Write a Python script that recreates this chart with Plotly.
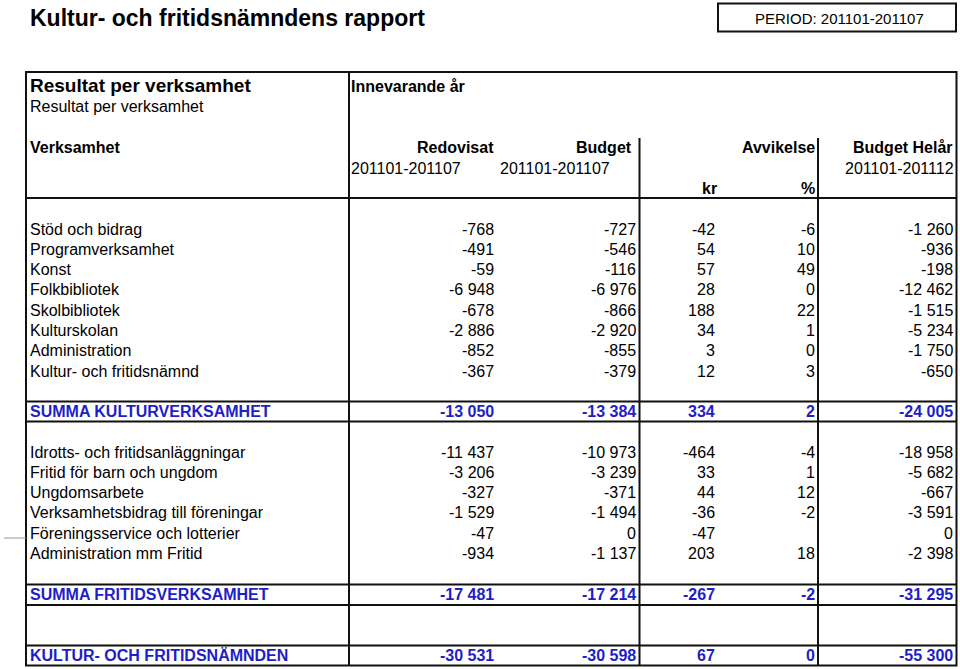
import plotly.graph_objects as go

# ---- data -------------------------------------------------------------
title = "Kultur- och fritidsnämndens rapport"
period = "PERIOD: 201101-201107"

kultur_names = ["Stöd och bidrag", "Programverksamhet", "Konst", "Folkbibliotek",
                "Skolbibliotek", "Kulturskolan", "Administration", "Kultur- och fritidsnämnd"]
kultur_redovisat = [-768, -491, -59, -6948, -678, -2886, -852, -367]
kultur_budget = [-727, -546, -116, -6976, -866, -2920, -855, -379]
kultur_avv_kr = [-42, 54, 57, 28, 188, 34, 3, 12]
kultur_avv_pct = [-6, 10, 49, 0, 22, 1, 0, 3]
kultur_helar = [-1260, -936, -198, -12462, -1515, -5234, -1750, -650]
kultur_summa = ["SUMMA KULTURVERKSAMHET", -13050, -13384, 334, 2, -24005]

fritid_names = ["Idrotts- och fritidsanläggningar", "Fritid för barn och ungdom", "Ungdomsarbete",
                "Verksamhetsbidrag till föreningar", "Föreningsservice och lotterier",
                "Administration mm Fritid"]
fritid_redovisat = [-11437, -3206, -327, -1529, -47, -934]
fritid_budget = [-10973, -3239, -371, -1494, 0, -1137]
fritid_avv_kr = [-464, 33, 44, -36, -47, 203]
fritid_avv_pct = [-4, 1, 12, -2, None, 18]
fritid_helar = [-18958, -5682, -667, -3591, 0, -2398]
fritid_summa = ["SUMMA FRITIDSVERKSAMHET", -17481, -17214, -267, -2, -31295]

total = ["KULTUR- OCH FRITIDSNÄMNDEN", -30531, -30598, 67, 0, -55300]

# ---- layout constants ---------------------------------------------------
W, H = 960, 669
FONT = "Liberation Sans, Arial, Helvetica, sans-serif"
BLUE = "#1e1ec8"
LEFT = 28
COL_X = [496, 638, 717, 817, 955]   # right edges of number columns
PITCH = 20.3


def fmt(v):
    if v is None:
        return ""
    return f"{v:,}".replace(",", " ")


fig = go.Figure()
ann = []


def text(x, y, s, size=16, bold=False, color="black", anchor="left"):
    if bold:
        s = f"<b>{s}</b>"
    ann.append(dict(x=x, y=y, xref="x", yref="y", text=s, showarrow=False,
                    xanchor=anchor, yanchor="middle",
                    font=dict(family=FONT, size=size, color=color)))


def row(y, name, vals, bold=False, color="black"):
    text(LEFT, y, name, bold=bold, color=color)
    for x, v in zip(COL_X, vals):
        text(x, y, fmt(v), bold=bold, color=color, anchor="right")


# title + period box
text(LEFT, 18, title, size=23, bold=True)
text(839, 18, period, size=15, anchor="center")

# header block
text(LEFT, 85, "Resultat per verksamhet", size=19, bold=True)
text(LEFT, 106, "Resultat per verksamhet")
text(349, 86, "Innevarande år", bold=True)
text(LEFT, 147, "Verksamhet", bold=True)
text(496, 147, "Redovisat", bold=True, anchor="right")
text(634, 147, "Budget", bold=True, anchor="right")
text(817, 147, "Avvikelse", bold=True, anchor="right")
text(955, 147, "Budget Helår", bold=True, anchor="right")
text(349, 168, "201101-201107")
text(498, 168, "201101-201107")
text(956, 168, "201101-201112", anchor="right")
text(719, 188, "kr", bold=True, anchor="right")
text(817, 188, "%", bold=True, anchor="right")

# kultur rows
for i, name in enumerate(kultur_names):
    row(229 + i * PITCH, name, [kultur_redovisat[i], kultur_budget[i], kultur_avv_kr[i],
                                 kultur_avv_pct[i], kultur_helar[i]])
row(411.5, kultur_summa[0], kultur_summa[1:], bold=True, color=BLUE)

# fritid rows
for i, name in enumerate(fritid_names):
    row(452 + i * PITCH, name, [fritid_redovisat[i], fritid_budget[i], fritid_avv_kr[i],
                                 fritid_avv_pct[i], fritid_helar[i]])
row(594.5, fritid_summa[0], fritid_summa[1:], bold=True, color=BLUE)

row(655.5, total[0], total[1:], bold=True, color=BLUE)

# ---- borders -----------------------------------------------------------
shapes = []


def line(x0, y0, x1, y1, w=2, color="#111111"):
    shapes.append(dict(type="line", xref="x", yref="y", x0=x0, y0=y0, x1=x1, y1=y1,
                       line=dict(color=color, width=w)))


# period box
shapes.append(dict(type="rect", xref="x", yref="y", x0=718, y0=3.5, x1=956, y1=31.5,
                   line=dict(color="#111111", width=2)))
# outer table
shapes.append(dict(type="rect", xref="x", yref="y", x0=26, y0=72, x1=956.5, y1=665.5,
                   line=dict(color="#111111", width=2)))
line(349, 72, 349, 665.5)
line(639.5, 138, 639.5, 665.5)
line(818, 138, 818, 665.5)
for yy in [198, 401.5, 421.5, 584.5, 605, 645.5]:
    line(26, yy, 956.5, yy)
# small scan artefact at left edge
line(4, 538, 26, 538, w=1, color="#999999")

fig.update_layout(
    width=W, height=H,
    margin=dict(l=0, r=0, t=0, b=0),
    paper_bgcolor="white", plot_bgcolor="white",
    xaxis=dict(range=[0, W], visible=False, fixedrange=True),
    yaxis=dict(range=[H, 0], visible=False, fixedrange=True),
    annotations=ann, shapes=shapes, showlegend=False,
)

# drop the default 8px body margin so the figure sits at the page corner
fig.write_html("out.html", config={"displayModeBar": False},
               post_script="document.body.style.margin='0px';document.body.style.overflow='hidden';")
